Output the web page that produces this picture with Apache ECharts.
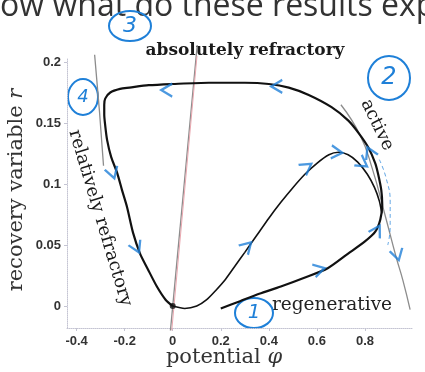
<!DOCTYPE html>
<html>
<head>
<meta charset="utf-8">
<script src="https://cdn.jsdelivr.net/npm/echarts@6.0.0/dist/echarts.min.js"></script>
<style>
  html, body { margin: 0; padding: 0; background: #fff; }
  #chart { width: 425px; height: 372px; }
</style>
</head>
<body>
<div id="chart"></div>
<script>
// phase plane: potential φ (x) vs recovery variable r (y)
const xTicks = [-0.4, -0.2, 0, 0.2, 0.4, 0.6, 0.8];
const yTicks = [0, 0.05, 0.1, 0.15, 0.2];

// big loop: regenerative -> active -> absolutely refractory -> relatively refractory -> rest
const outerLoop = [
  [0.20, -0.002], [0.28, 0.004], [0.36, 0.010], [0.45, 0.016], [0.545, 0.023], [0.645, 0.031],
  [0.73, 0.043], [0.80, 0.053], [0.843, 0.061], [0.864, 0.071], [0.872, 0.083], [0.868, 0.095],
  [0.855, 0.108], [0.843, 0.117], [0.814, 0.130], [0.773, 0.142], [0.731, 0.152], [0.661, 0.163],
  [0.566, 0.173], [0.483, 0.179], [0.40, 0.182], [0.30, 0.183], [0.15, 0.183], [0.0, 0.182],
  [-0.10, 0.181], [-0.18, 0.179], [-0.219, 0.178], [-0.26, 0.175], [-0.281, 0.170], [-0.285, 0.165],
  [-0.285, 0.157], [-0.281, 0.148], [-0.273, 0.136], [-0.256, 0.122], [-0.231, 0.109], [-0.211, 0.095],
  [-0.19, 0.081], [-0.165, 0.060], [-0.136, 0.043], [-0.103, 0.030], [-0.066, 0.016], [-0.029, 0.005],
  [0, 0]
];

// smaller excursion leaving the rest point
const innerPath = [
  [0, 0], [0.05, -0.002], [0.10, 0.000], [0.14, 0.005], [0.18, 0.013], [0.22, 0.022], [0.26, 0.033],
  [0.30, 0.044], [0.35, 0.058], [0.40, 0.072], [0.45, 0.085], [0.50, 0.097], [0.55, 0.108],
  [0.60, 0.117], [0.65, 0.124], [0.69, 0.126], [0.73, 0.124], [0.77, 0.118], [0.81, 0.108],
  [0.84, 0.097], [0.86, 0.086], [0.87, 0.076]
];

// nullclines (grey)
const leftNull = [[-0.325, 0.206], [-0.305, 0.16], [-0.288, 0.115]];
const rightNull = [[0.70, 0.165], [0.78, 0.140], [0.83, 0.113], [0.883, 0.075], [0.93, 0.040], [0.958, 0.021], [0.988, -0.003]];
const rNull = [[-0.0095, -0.020], [0.102, 0.214]];
const rNullRed = [[-0.004, -0.020], [0.101, 0.205]];

// hand drawn blue marks
const penArc = [[0.86, 0.120], [0.888, 0.105], [0.905, 0.085], [0.905, 0.065], [0.895, 0.050]];
const arrowPts = [
  [-0.025, 0.177], [0.433, 0.180], [-0.25, 0.109], [-0.15, 0.048], [0.31, 0.049], [0.558, 0.114],
  [0.683, 0.126], [0.79, 0.117], [0.82, 0.126], [0.85, 0.062], [0.61, 0.030], [0.935, 0.042]
];
const arrowHeading = [180, 180, -72, -65, 45, 35, -5, -35, 115, 60, 15, -75];
const restPoint = [[0, 0]];

const BLUE = '#1f80d8';
const SERIF = '"DejaVu Serif", serif';

const chart = echarts.init(document.getElementById('chart'));

chart.setOption({
  animation: false,
  backgroundColor: '#fff',
  grid: { left: 67, right: 12, top: 58, bottom: 44, containLabel: false, outerBoundsMode: 'none' },
  xAxis: {
    type: 'value', min: -0.44, max: 1.0,
    axisLine: { show: true, onZero: false, lineStyle: { color: '#c4c4d2', type: 'dotted', width: 1 } },
    axisTick: { show: true, customValues: xTicks, length: 3, lineStyle: { color: '#c4c4d2' } },
    splitLine: { show: false },
    axisLabel: {
      customValues: xTicks, formatter: v => String(v), margin: 7,
      fontFamily: '"Liberation Sans", Arial', fontWeight: 'bold', fontSize: 13, color: '#333'
    }
  },
  yAxis: {
    type: 'value', min: -0.018, max: 0.2033,
    axisLine: { show: true, onZero: false, lineStyle: { color: '#c4c4d2', type: 'dotted', width: 1 } },
    axisTick: { show: true, customValues: yTicks, length: 3, lineStyle: { color: '#c4c4d2' } },
    splitLine: { show: false },
    axisLabel: {
      customValues: yTicks, formatter: v => String(v), margin: 6,
      fontFamily: '"Liberation Sans", Arial', fontWeight: 'bold', fontSize: 13, color: '#333'
    }
  },
  series: [
    { type: 'line', data: rNull, showSymbol: false, clip: false, z: 1,
      lineStyle: { color: '#8c8c8c', width: 1.3 } },
    { type: 'line', data: rNullRed, showSymbol: false, clip: false, z: 1,
      lineStyle: { color: '#eaa8b0', width: 1 } },
    { type: 'line', data: leftNull, showSymbol: false, clip: false, smooth: true, z: 1,
      lineStyle: { color: '#8c8c8c', width: 1.3 } },
    { type: 'line', data: rightNull, showSymbol: false, clip: false, smooth: true, z: 1,
      lineStyle: { color: '#8c8c8c', width: 1.3 } },
    { type: 'line', data: outerLoop, showSymbol: false, smooth: 0.25, clip: false, z: 3,
      lineStyle: { color: '#111', width: 2.2 } },
    { type: 'line', data: innerPath, showSymbol: false, smooth: 0.25, clip: false, z: 3,
      lineStyle: { color: '#111', width: 1.6 } },
    { type: 'line', data: penArc, showSymbol: false, smooth: true, clip: false, z: 4,
      lineStyle: { color: BLUE, width: 1, type: [4, 3], opacity: 0.7 } },
    { type: 'scatter', data: restPoint, symbolSize: 6, z: 5, itemStyle: { color: '#111' } },
    {
      type: 'scatter', z: 6, clip: false,
      symbol: 'path://M0,0L10,6L0,12', symbolSize: [11, 13],
      itemStyle: { color: 'rgba(0,0,0,0)', borderColor: BLUE, borderWidth: 2.2 },
      data: arrowPts.map((p, i) => ({ value: p, symbolRotate: arrowHeading[i] }))
    }
  ],
  graphic: [
    // slide title cut off at the top of the screenshot
    { type: 'text', x: -24, y: 7, style: { text: 'Now what do these results explain?', font: '32px "Open Sans"', fill: '#333', verticalAlign: 'middle' } },
    { type: 'text', x: 245, y: 51, style: { text: 'absolutely refractory', font: 'bold 17px ' + SERIF, fill: '#1a1a1a', align: 'center', verticalAlign: 'middle' } },
    { type: 'text', x: 377, y: 125, rotation: -1.12, style: { text: 'active', font: '18px ' + SERIF, fill: '#1a1a1a', align: 'center', verticalAlign: 'middle' } },
    { type: 'text', x: 100, y: 218, rotation: -1.279, style: { text: 'relatively refractory', font: '18px ' + SERIF, fill: '#1a1a1a', align: 'center', verticalAlign: 'middle' } },
    { type: 'text', x: 332, y: 305, style: { text: 'regenerative', font: '18.5px ' + SERIF, fill: '#222', align: 'center', verticalAlign: 'middle' } },
    { type: 'text', x: 224, y: 358, style: { text: 'potential {i|φ}', font: '21px ' + SERIF, fill: '#333', align: 'center', verticalAlign: 'middle',
      rich: { i: { font: 'italic 21px ' + SERIF, fill: '#333' } } } },
    { type: 'text', x: 17, y: 190, rotation: Math.PI / 2, style: { text: 'recovery variable {i|r}', font: '21px ' + SERIF, fill: '#333', align: 'center', verticalAlign: 'middle',
      rich: { i: { font: 'italic 21px ' + SERIF, fill: '#333' } } } },
    // circled step numbers
    { type: 'ellipse', shape: { cx: 130, cy: 26, rx: 21, ry: 15 }, style: { fill: 'none', stroke: BLUE, lineWidth: 2 } },
    { type: 'text', x: 130, y: 26, style: { text: '3', font: 'italic 22px "DejaVu Sans"', fill: BLUE, align: 'center', verticalAlign: 'middle' } },
    { type: 'ellipse', shape: { cx: 389, cy: 78, rx: 21, ry: 22 }, style: { fill: 'none', stroke: BLUE, lineWidth: 2 } },
    { type: 'text', x: 389, y: 78, style: { text: '2', font: 'italic 24px "DejaVu Sans"', fill: BLUE, align: 'center', verticalAlign: 'middle' } },
    { type: 'ellipse', shape: { cx: 83, cy: 97, rx: 15, ry: 18 }, style: { fill: 'none', stroke: BLUE, lineWidth: 2 } },
    { type: 'text', x: 83, y: 97, style: { text: '4', font: 'italic 18px "DejaVu Sans"', fill: BLUE, align: 'center', verticalAlign: 'middle' } },
    { type: 'ellipse', shape: { cx: 254, cy: 313, rx: 19, ry: 15 }, style: { fill: 'none', stroke: BLUE, lineWidth: 2 } },
    { type: 'text', x: 254, y: 313, style: { text: '1', font: 'italic 20px "DejaVu Sans"', fill: BLUE, align: 'center', verticalAlign: 'middle' } }
  ]
});
</script>
</body>
</html>
